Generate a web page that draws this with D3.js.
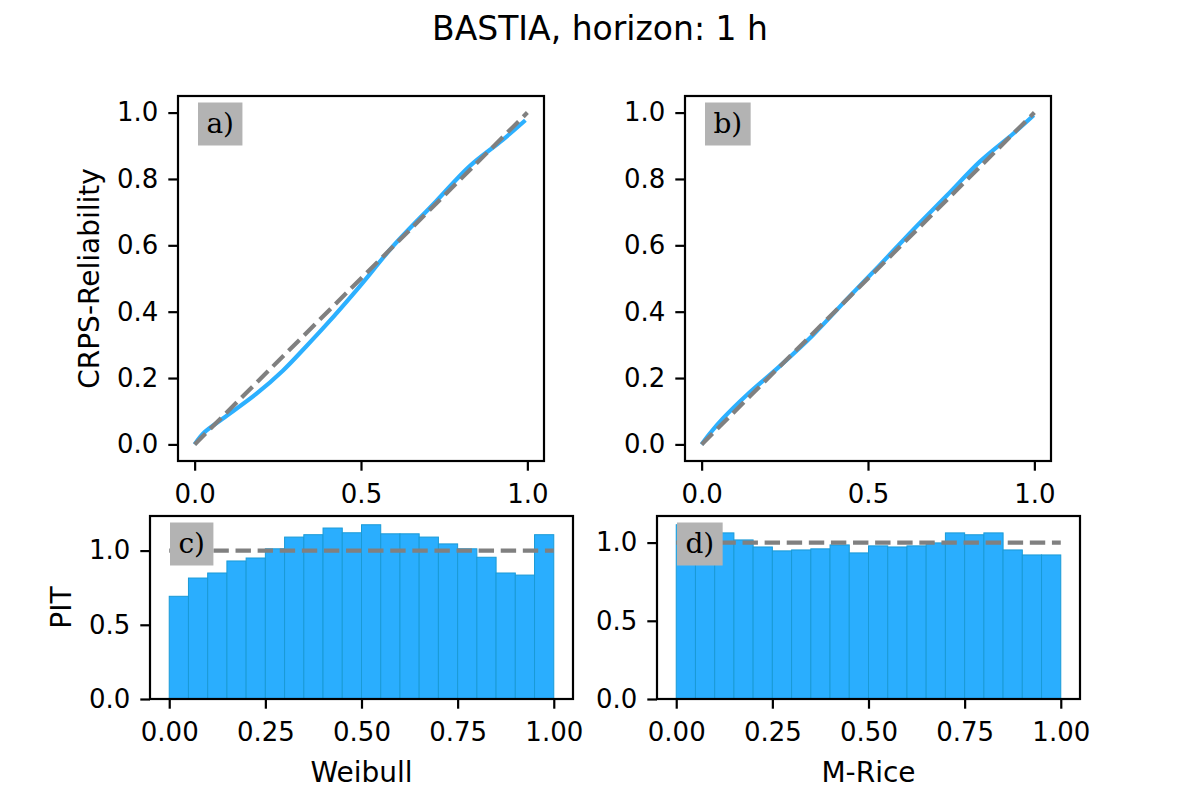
<!DOCTYPE html>
<html lang="en">
<head>
  <meta charset="UTF-8">
  <title>BASTIA, horizon: 1 h</title>
  <style>
    body { margin: 0; background: #fff; }
    svg { font-family: "DejaVu Sans", sans-serif; }
    .tick text { font-family: "DejaVu Sans", sans-serif; font-size: 26px; fill: #000; }
    .tick line { stroke: #000; stroke-width: 2.2; }
  </style>
</head>
<body>
<div id="chart"></div>

<script src="https://cdn.jsdelivr.net/npm/d3@7"></script>
<script>
  // CRPS reliability curves
  const weibullCrpsX = [0, 0.03, 0.085, 0.185, 0.265, 0.335, 0.395, 0.495, 0.595, 0.726, 0.826, 0.926, 0.994];
  const weibullCrpsY = [0, 0.037, 0.078, 0.152, 0.222, 0.295, 0.36, 0.475, 0.596, 0.733, 0.838, 0.918, 0.977];
  const mriceCrpsX = [0, 0.024, 0.064, 0.135, 0.235, 0.335, 0.436, 0.536, 0.636, 0.737, 0.837, 0.937, 0.998];
  const mriceCrpsY = [0, 0.032, 0.078, 0.148, 0.236, 0.330, 0.437, 0.541, 0.647, 0.750, 0.853, 0.937, 0.992];

  // PIT histograms, 20 bins on [0, 1]
  const weibullPit = [0.692, 0.815, 0.849, 0.930, 0.950, 1.012, 1.091, 1.107, 1.152, 1.120,
                      1.174, 1.113, 1.113, 1.091, 1.045, 1.012, 0.955, 0.849, 0.835, 1.107];
  const mricePit = [1.114, 1.030, 1.062, 1.017, 0.972, 0.947, 0.953, 0.960, 0.985, 0.934,
                    0.979, 0.972, 0.979, 0.998, 1.062, 1.050, 1.062, 0.953, 0.921, 0.921];

  const crpsXTicks = [0, 0.5, 1.0];
  const crpsYTicks = [0, 0.2, 0.4, 0.6, 0.8, 1.0];
  const pitXTicks = [0, 0.25, 0.5, 0.75, 1.0];
  const pitYTicks = [0, 0.5, 1.0];

  const title = "BASTIA, horizon: 1 h";
  const lineColor = "#2cb0ff",
    barColor = "#2aaefe",
    barEdge = "#1a9ad6",
    refColor = "#808080",
    tickLen = 9.7;

  const svg = d3.select("#chart").append("svg")
    .attr("width", 1200)
    .attr("height", 800);

  svg.append("text")
    .attr("x", 600)
    .attr("y", 40)
    .attr("text-anchor", "middle")
    .attr("font-size", 33)
    .text(title);

  const panels = [
    {key: "a)", left: 178, top: 96, right: 544, bottom: 461, kind: "crps", xs: weibullCrpsX, ys: weibullCrpsY, ylabel: "CRPS-Reliability", ylabelX: 98.5},
    {key: "b)", left: 685, top: 96, right: 1051, bottom: 461, kind: "crps", xs: mriceCrpsX, ys: mriceCrpsY},
    {key: "c)", left: 150, top: 516, right: 573, bottom: 699, kind: "pit", values: weibullPit, ymax: 1.233, ylabel: "PIT", ylabelX: 71, xlabel: "Weibull"},
    {key: "d)", left: 657, top: 516, right: 1080, bottom: 699, kind: "pit", values: mricePit, ymax: 1.17, xlabel: "M-Rice"}
  ];

  const fmt1 = d3.format(".1f"), fmt2 = d3.format(".2f");

  function styleAxis(a) {
    a.select(".domain").remove();
    a.attr("font-family", null).attr("font-size", null);
  }

  panels.forEach(function(p) {
    const g = svg.append("g");
    const x = d3.scaleLinear().domain([-0.05, 1.05]).range([p.left, p.right]);
    let y;

    if (p.kind === "crps") {
      y = d3.scaleLinear().domain([-0.05, 1.05]).range([p.bottom, p.top]);

      const pts = p.xs.map(function(d, i) { return [d, p.ys[i]]; });
      const line = d3.line()
        .x(function(d) { return x(d[0]); })
        .y(function(d) { return y(d[1]); })
        .curve(d3.curveCatmullRom.alpha(0.5));

      g.append("path")
        .datum(pts)
        .attr("fill", "none")
        .attr("stroke", lineColor)
        .attr("stroke-width", 4.2)
        .attr("d", line);

      g.append("line")
        .attr("x1", x(0)).attr("y1", y(0))
        .attr("x2", x(1)).attr("y2", y(1))
        .attr("stroke", refColor)
        .attr("stroke-width", 4.2)
        .attr("stroke-dasharray", "15.4,6.7");

      g.append("g")
        .attr("transform", "translate(0," + p.bottom + ")")
        .call(d3.axisBottom(x).tickValues(crpsXTicks).tickFormat(fmt1).tickSize(tickLen).tickPadding(13.5).tickSizeOuter(0))
        .call(styleAxis);
      g.append("g")
        .attr("transform", "translate(" + p.left + ",0)")
        .call(d3.axisLeft(y).tickValues(crpsYTicks).tickFormat(fmt1).tickSize(tickLen).tickPadding(10).tickSizeOuter(0))
        .call(styleAxis);
    } else {
      y = d3.scaleLinear().domain([0, p.ymax]).range([p.bottom, p.top]);
      const n = p.values.length;

      g.selectAll(".bar")
        .data(p.values)
        .enter()
        .append("rect")
        .attr("class", "bar")
        .attr("x", function(d, i) { return x(i / n); })
        .attr("width", function(d, i) { return x((i + 1) / n) - x(i / n); })
        .attr("y", function(d) { return y(d); })
        .attr("height", function(d) { return y(0) - y(d); })
        .attr("fill", barColor)
        .attr("stroke", barEdge)
        .attr("stroke-width", 1);

      g.append("line")
        .attr("x1", x(0)).attr("y1", y(1))
        .attr("x2", x(1)).attr("y2", y(1))
        .attr("stroke", refColor)
        .attr("stroke-width", 4.2)
        .attr("stroke-dasharray", "15.4,6.7");

      g.append("g")
        .attr("transform", "translate(0," + p.bottom + ")")
        .call(d3.axisBottom(x).tickValues(pitXTicks).tickFormat(fmt2).tickSize(tickLen).tickPadding(13.5).tickSizeOuter(0))
        .call(styleAxis);
      g.append("g")
        .attr("transform", "translate(" + p.left + ",0)")
        .call(d3.axisLeft(y).tickValues(pitYTicks).tickFormat(fmt1).tickSize(tickLen).tickPadding(10).tickSizeOuter(0))
        .call(styleAxis);
    }

    // frame
    g.append("rect")
      .attr("x", p.left).attr("y", p.top)
      .attr("width", p.right - p.left)
      .attr("height", p.bottom - p.top)
      .attr("fill", "none")
      .attr("stroke", "#000")
      .attr("stroke-width", 2.2);

    // panel letter in a grey box
    const bx = p.left + 20, by = p.top + 6.5, pad = 8.4;
    const box = g.append("rect").attr("fill", "#b3b3b3");
    const txt = g.append("text")
      .attr("x", bx + pad)
      .attr("y", by + 30)
      .attr("font-family", "'DejaVu Serif', serif")
      .attr("font-size", 28)
      .text(p.key);
    const tw = txt.node().getComputedTextLength();
    box.attr("x", bx).attr("y", by).attr("width", tw + 2 * pad).attr("height", 43);

    if (p.ylabel) {
      g.append("text")
        .attr("transform", "translate(" + p.ylabelX + "," + ((p.top + p.bottom) / 2) + ") rotate(-90)")
        .attr("text-anchor", "middle")
        .attr("font-size", 28)
        .text(p.ylabel);
    }
    if (p.xlabel) {
      g.append("text")
        .attr("x", (p.left + p.right) / 2)
        .attr("y", p.bottom + 83)
        .attr("text-anchor", "middle")
        .attr("font-size", 28)
        .text(p.xlabel);
    }
  });
</script>
</body>
</html>
